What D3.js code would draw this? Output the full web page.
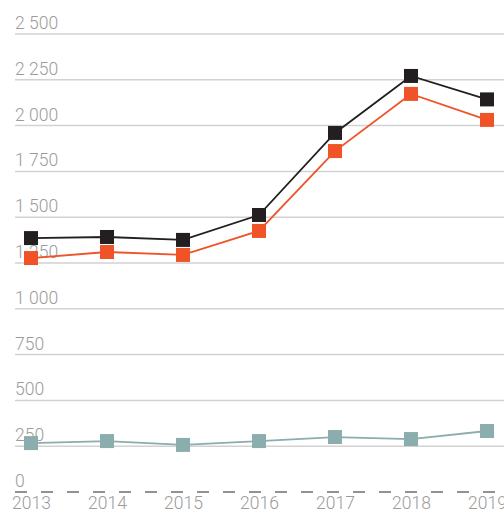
<!DOCTYPE html>
<html>
<head>
<meta charset="utf-8">
<script src="https://cdn.jsdelivr.net/npm/d3@7"></script>
<style>
  html, body { margin: 0; padding: 0; background: #fff; }
  svg { display: block; }
  text { font-family: Roboto, "Noto Sans", sans-serif; font-weight: 300; }
</style>
</head>
<body>
<svg id="chart" width="504" height="511"></svg>
<script>
const years = [2013, 2014, 2015, 2016, 2017, 2018, 2019];
const totalSeries = [1386, 1392, 1376, 1512, 1960, 2271, 2143];
const orangeSeries = [1277, 1310, 1294, 1425, 1861, 2173, 2031];
const tealSeries = [267, 278, 257, 278, 300, 289, 333];
const yTicks = [0, 250, 500, 750, 1000, 1250, 1500, 1750, 2000, 2250, 2500];

const svg = d3.select('#chart');
const W = 504;

const x = d3.scalePoint().domain(years).range([31, 487]);
const y = d3.scaleLinear().domain([0, 2500]).range([492, 34]);

const fmt = v => d3.format(',')(v).replace(/,/g, ' ');

// grid + labels
const grid = svg.append('g');
grid.selectAll('line.grid')
  .data(yTicks.filter(d => d > 0))
  .join('line')
  .attr('x1', 15).attr('x2', W)
  .attr('y1', d => y(d)).attr('y2', d => y(d))
  .attr('stroke', '#d2d2d2').attr('stroke-width', 1.5);

grid.append('line')
  .attr('x1', 15).attr('x2', W)
  .attr('y1', y(0)).attr('y2', y(0))
  .attr('stroke', '#6d6d6d').attr('stroke-width', 1.5)
  .attr('stroke-dasharray', '12 14');

grid.selectAll('text.ylab')
  .data(yTicks)
  .join('text')
  .attr('x', 15)
  .attr('y', d => y(d) - 5)
  .attr('fill', '#9b9b9b')
  .attr('font-size', 17.5)
  .text(fmt);

// x axis labels
svg.append('g')
  .attr('transform', `translate(0,${y(0)})`)
  .call(d3.axisBottom(x).tickSize(0).tickPadding(0))
  .call(g => g.select('.domain').remove())
  .call(g => g.selectAll('text')
    .attr('fill', '#9b9b9b')
    .attr('font-size', 17.5)
    .attr('font-family', 'Roboto, sans-serif')
    .attr('font-weight', 300)
    .attr('y', 17)
    .attr('dy', 0));

const series = [
  { values: tealSeries, color: '#8badad' },
  { values: orangeSeries, color: '#ef5327' },
  { values: totalSeries, color: '#231f20' }
];

const line = d3.line().x((d, i) => x(years[i])).y(d => y(d));
const sz = 14;

series.forEach(s => {
  svg.append('path')
    .attr('d', line(s.values))
    .attr('fill', 'none')
    .attr('stroke', s.color)
    .attr('stroke-width', 1.8);
  svg.append('g').selectAll('rect')
    .data(s.values)
    .join('rect')
    .attr('x', (d, i) => x(years[i]) - sz / 2)
    .attr('y', d => y(d) - sz / 2)
    .attr('width', sz).attr('height', sz)
    .attr('fill', s.color);
});
</script>
</body>
</html>
